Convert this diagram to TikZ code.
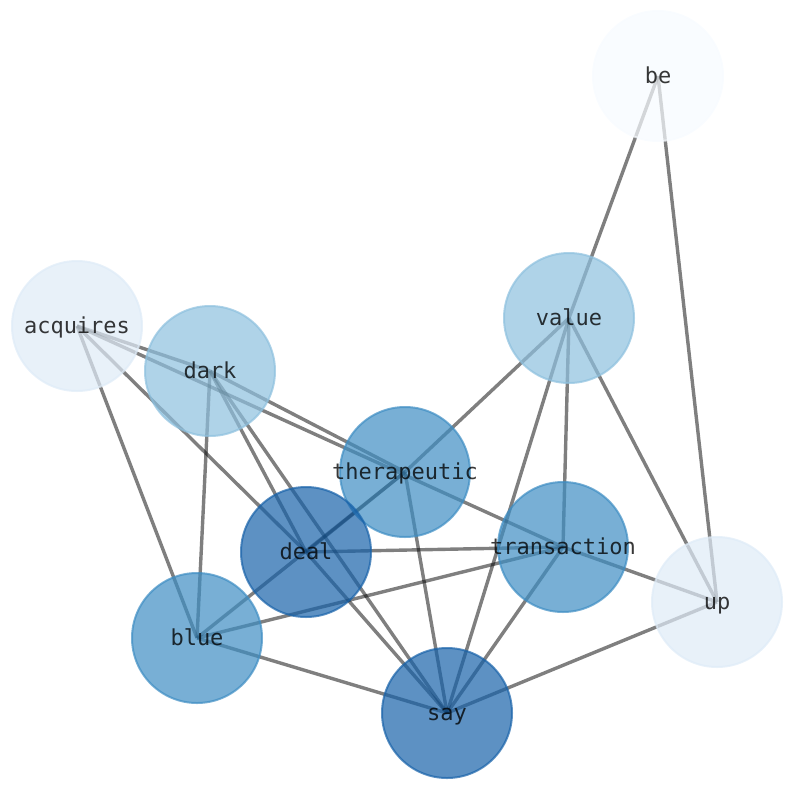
\documentclass[tikz,border=0pt]{standalone}
\usepackage{fontspec}
\newfontfamily\labelfont{DejaVu Sans Mono}
\usetikzlibrary{backgrounds}
\definecolor{cZero}{RGB}{247,251,255}
\definecolor{cOne}{RGB}{222,235,247}
\definecolor{cTwo}{RGB}{141,192,222}
\definecolor{cThree}{RGB}{62,141,195}
\definecolor{cFour}{RGB}{24,98,169}
\begin{document}
\begin{tikzpicture}[x=1pt,y=-1pt]
\tikzset{
  vtx/.style={circle, minimum size=130pt, inner sep=0pt, line width=2pt,
    draw=#1, fill=#1, opacity=0.7},
  lbl/.style={inner sep=0pt, text=black, text opacity=0.78,
    font=\labelfont\fontsize{22}{22}\selectfont, text height=20.4pt, text depth=5.2pt},
  lnk/.style={draw=black, draw opacity=0.5, line width=3.4pt}
}
\useasboundingbox (0,0) rectangle (794,790);
\node[vtx=cZero, label={[lbl]center:be}] (be) at (658,76) {};
\node[vtx=cTwo, label={[lbl]center:value}] (value) at (569,318) {};
\node[vtx=cOne, label={[lbl]center:acquires}] (acquires) at (77,326) {};
\node[vtx=cTwo, label={[lbl]center:dark}] (dark) at (210,371) {};
\node[vtx=cThree, label={[lbl]center:therapeutic}] (therapeutic) at (405,472) {};
\node[vtx=cFour, label={[lbl]center:deal}] (deal) at (306,552) {};
\node[vtx=cThree, label={[lbl]center:transaction}] (transaction) at (563,547) {};
\node[vtx=cOne, label={[lbl]center:up}] (up) at (717,602) {};
\node[vtx=cThree, label={[lbl]center:blue}] (blue) at (197,638) {};
\node[vtx=cFour, label={[lbl]center:say}] (say) at (447,713) {};
\begin{scope}[on background layer]
\draw[lnk] (be.center) -- (value.center);
\draw[lnk] (be.center) -- (up.center);
\draw[lnk] (value.center) -- (therapeutic.center);
\draw[lnk] (value.center) -- (say.center);
\draw[lnk] (value.center) -- (transaction.center);
\draw[lnk] (value.center) -- (up.center);
\draw[lnk] (acquires.center) -- (dark.center);
\draw[lnk] (acquires.center) -- (transaction.center);
\draw[lnk] (acquires.center) -- (deal.center);
\draw[lnk] (acquires.center) -- (blue.center);
\draw[lnk] (dark.center) -- (therapeutic.center);
\draw[lnk] (dark.center) -- (blue.center);
\draw[lnk] (dark.center) -- (deal.center);
\draw[lnk] (dark.center) -- (say.center);
\draw[lnk] (therapeutic.center) -- (deal.center);
\draw[lnk] (therapeutic.center) -- (blue.center);
\draw[lnk] (therapeutic.center) -- (say.center);
\draw[lnk] (deal.center) -- (transaction.center);
\draw[lnk] (deal.center) -- (say.center);
\draw[lnk] (transaction.center) -- (blue.center);
\draw[lnk] (transaction.center) -- (say.center);
\draw[lnk] (transaction.center) -- (up.center);
\draw[lnk] (blue.center) -- (say.center);
\draw[lnk] (say.center) -- (up.center);
\end{scope}
\end{tikzpicture}
\end{document}
